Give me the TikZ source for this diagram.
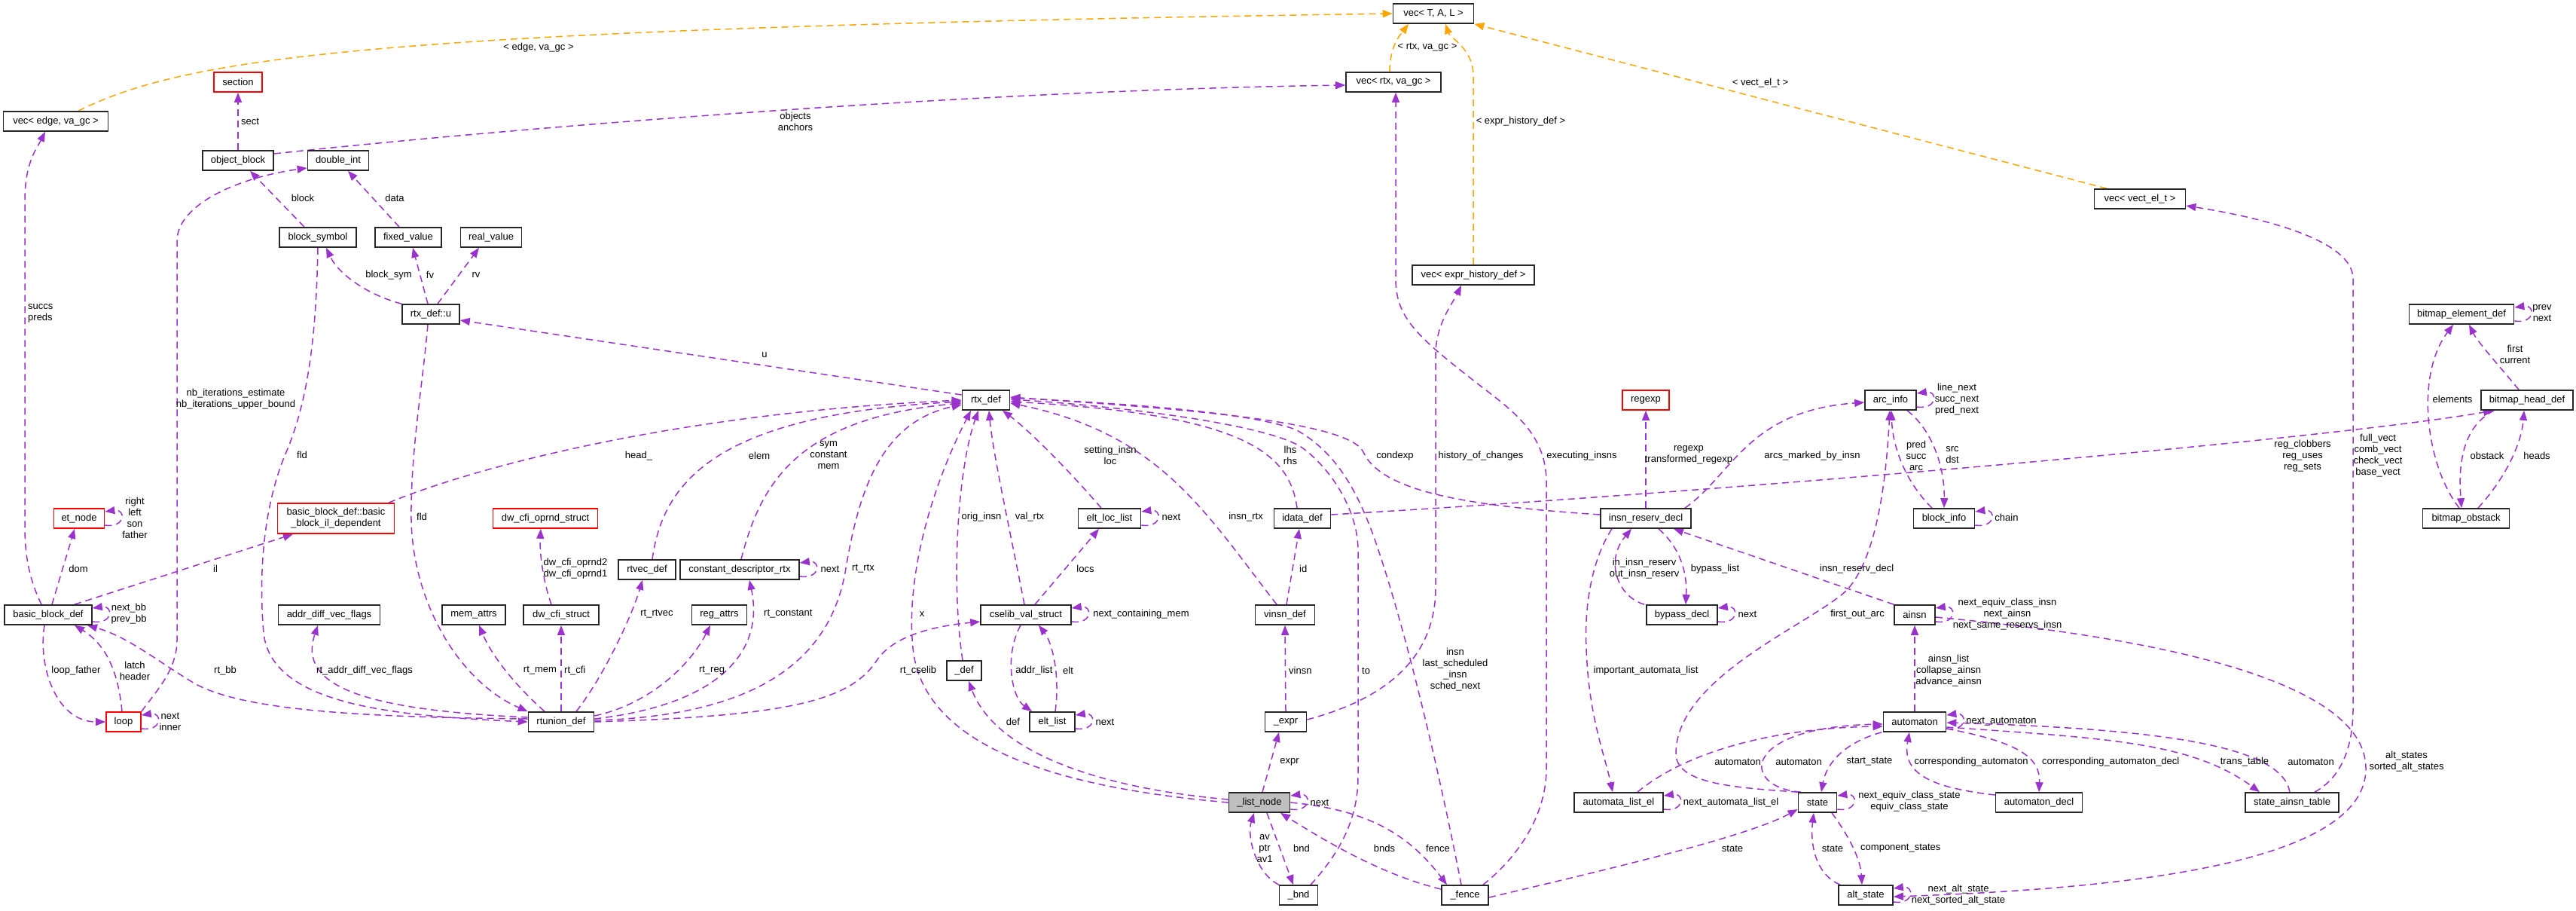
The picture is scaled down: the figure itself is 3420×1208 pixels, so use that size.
\documentclass[tikz,border=0pt]{standalone}
\usepackage{fontspec}
\setmainfont{Liberation Sans}
\usetikzlibrary{arrows.meta}
\pgfdeclarelayer{bg}
\pgfsetlayers{bg,main}
\definecolor{purp}{HTML}{9A32CD}
\definecolor{orng}{HTML}{FFA500}
\definecolor{gfill}{HTML}{BFBFBF}
\definecolor{rd}{HTML}{FF0000}
\newcommand\myselfloop[1]{\draw[rel] ([yshift=-9pt]#1.east) .. controls +(28,4) and +(28,-4) .. ([yshift=9pt]#1.east);}
\begin{document}
\begin{tikzpicture}[x=1pt,y=-1pt,
 every node/.style={font=\fontsize{13}{15}\selectfont},
 cbox/.style={draw=black!85,line width=1.7pt,fill=white,minimum height=26pt,inner sep=0pt,align=center},
 rbox/.style={cbox,draw=rd},
 rel/.style={draw=purp,line width=1.5pt,dash pattern=on 9pt off 6pt,-{Triangle[length=13pt,width=10pt]}},
 orel/.style={rel,draw=orng},
 lab/.style={inner sep=0pt,align=center},
 labw/.style={inner sep=0pt,align=left,anchor=west},
]
\useasboundingbox (0,0) rectangle (3420,1208);
% nodes
\node[cbox, minimum width=107pt] (vecTAL) at (1903,18) {vec< T, A, L >};
\node[rbox, minimum width=64pt] (section) at (316,109) {section};
\node[cbox, minimum width=139pt] (vecedge) at (74,161) {vec< edge, va\_gc >};
\node[cbox, minimum width=126pt] (vecrtx) at (1850,109) {vec< rtx, va\_gc >};
\node[cbox, minimum width=94pt] (objblock) at (316,213) {object\_block};
\node[cbox, minimum width=81pt] (doubleint) at (449,213) {double\_int};
\node[cbox, minimum width=102pt] (blocksym) at (422,315) {block\_symbol};
\node[cbox, minimum width=88pt] (fixedval) at (542,315) {fixed\_value};
\node[cbox, minimum width=81pt] (realval) at (652,315) {real\_value};
\node[cbox, minimum width=76pt] (rtxu) at (572,417) {rtx\_def::u};
\node[cbox, minimum width=162pt] (vecexpr) at (1956,365) {vec< expr\_history\_def >};
\node[cbox, minimum width=121pt] (vecvect) at (2841,264) {vec< vect\_el\_t >};
\node[rbox, minimum width=62pt] (regexp) at (2185,531) {regexp};
\node[cbox, minimum width=68pt] (arcinfo) at (2510,531) {arc\_info};
\node[cbox, minimum width=139pt] (bmelem) at (3268,417) {bitmap\_element\_def};
\node[cbox, minimum width=122pt] (bmhead) at (3355,531) {bitmap\_head\_def};
\node[cbox, minimum width=63pt] (rtxdef) at (1309,531) {rtx\_def};
\node[rbox, minimum width=67pt] (etnode) at (105,688) {et\_node};
\node[rbox, minimum width=155pt, minimum height=40pt] (bbil) at (446,688) {basic\_block\_def::basic\\\_block\_il\_dependent};
\node[rbox, minimum width=139pt] (dwoprnd) at (724,688) {dw\_cfi\_oprnd\_struct};
\node[cbox, minimum width=83pt] (eltloc) at (1473,688) {elt\_loc\_list};
\node[cbox, minimum width=75pt] (idata) at (1729,688) {idata\_def};
\node[cbox, minimum width=120pt] (insnres) at (2185,688) {insn\_reserv\_decl};
\node[cbox, minimum width=81pt] (blockinfo) at (2581,688) {block\_info};
\node[cbox, minimum width=115pt] (bmobstack) at (3274,688) {bitmap\_obstack};
\node[cbox, minimum width=116pt] (bbdef) at (64,816) {basic\_block\_def};
\node[cbox, minimum width=135pt] (addrdiff) at (437,816) {addr\_diff\_vec\_flags};
\node[cbox, minimum width=84pt] (memattrs) at (629,816) {mem\_attrs};
\node[cbox, minimum width=100pt] (dwcfi) at (745,816) {dw\_cfi\_struct};
\node[cbox, minimum width=76pt] (rtvec) at (859,756) {rtvec\_def};
\node[cbox, minimum width=158pt] (cdr) at (982,756) {constant\_descriptor\_rtx};
\node[cbox, minimum width=73pt] (regattrs) at (955,816) {reg\_attrs};
\node[cbox, minimum width=120pt] (cselib) at (1362,816) {cselib\_val\_struct};
\node[cbox, minimum width=79pt] (vinsn) at (1706,816) {vinsn\_def};
\node[cbox, minimum width=94pt] (bypass) at (2233,816) {bypass\_decl};
\node[cbox, minimum width=54pt] (ainsn) at (2542,816) {ainsn};
\node[cbox, minimum width=46pt] (def) at (1280,890) {\_def};
\node[rbox, minimum width=46pt] (loop) at (164,958) {loop};
\node[cbox, minimum width=87pt] (rtunion) at (745,958) {rtunion\_def};
\node[cbox, minimum width=60pt] (eltlist) at (1397,958) {elt\_list};
\node[cbox, minimum width=55pt] (expr) at (1707,958) {\_expr};
\node[cbox, minimum width=83pt] (automaton) at (2542,958) {automaton};
\node[cbox, minimum width=81pt, fill=gfill] (listnode) at (1672,1065) {\_list\_node};
\node[cbox, minimum width=118pt] (autolist) at (2149,1065) {automata\_list\_el};
\node[cbox, minimum width=51pt] (state) at (2413,1065) {state};
\node[cbox, minimum width=115pt] (autodecl) at (2707,1065) {automaton\_decl};
\node[cbox, minimum width=124pt] (sat) at (3043,1065) {state\_ainsn\_table};
\node[cbox, minimum width=51pt] (bnd) at (1724,1188) {\_bnd};
\node[cbox, minimum width=62pt] (fence) at (1945,1188) {\_fence};
\node[cbox, minimum width=72pt] (altstate) at (2477,1188) {alt\_state};

\begin{pgfonlayer}{bg}
\fill[white] (0,0) rectangle (3420,1208);
% orange
\draw[orel] ([xshift=30pt]vecedge.north) .. controls (250,75) and (500,38) .. (vecTAL.west);
\draw[orel] ([xshift=-5pt]vecrtx.north) .. controls (1845,60) and (1860,45) .. ([xshift=-33pt]vecTAL.south);
\draw[orel] (vecexpr.north) -- (1956,100) .. controls (1956,65) and (1925,50) .. ([xshift=16pt]vecTAL.south);
\draw[orel] ([xshift=-44pt]vecvect.north) -- (vecTAL.south east);
% purple
\draw[rel] (objblock.north) -- (section.south);
\draw[rel] ([yshift=9pt]objblock.east) .. controls (700,168) and (1300,120) .. ([yshift=-4pt]vecrtx.west);
\draw[rel] ([xshift=-18pt]blocksym.north) -- ([xshift=16pt]objblock.south);
\draw[rel] ([xshift=-12pt]fixedval.north) -- ([xshift=13pt]doubleint.south);
\draw[rel] (rtxu.north west) .. controls (490,392) and (450,365) .. ([xshift=11pt]blocksym.south);
\draw[rel] ([xshift=-4pt]rtxu.north) -- ([xshift=6pt]fixedval.south);
\draw[rel] ([xshift=9pt]rtxu.north) -- ([xshift=-16pt]realval.south);
\draw[rel] ([yshift=7pt]rtxdef.west) -- ([yshift=-8pt]rtxu.east);
\draw[rel] (loop.north east) .. controls (205,920) and (235,890) .. (235,850) -- (235,320) .. controls (235,270) and (320,235) .. ([yshift=-10pt]doubleint.west);
\draw[rel] ([xshift=-9pt]bbdef.north) .. controls (42,775) and (33,745) .. (33,700) -- (33,265) .. controls (33,215) and (50,195) .. ([xshift=-14pt]vecedge.south);
\draw[rel] ([xshift=5pt]bbdef.north) -- ([xshift=-6pt]etnode.south);
\myselfloop{etnode}
\draw[rel] ([xshift=35pt]bbdef.north) -- ([xshift=-57pt]bbil.south);
\myselfloop{bbdef}
\draw[rel] ([xshift=-5pt]bbdef.south) .. controls (50,885) and (75,958) .. (loop.west);
\draw[rel] ([xshift=-2pt]loop.north) .. controls (157,890) and (140,855) .. ([xshift=35pt]bbdef.south);
\myselfloop{loop}
\draw[rel] ([yshift=4pt]rtunion.west) .. controls (500,952) and (320,945) .. (255,905) .. controls (210,878) and (170,845) .. ([xshift=52pt]bbdef.south);
\draw[rel] (blocksym.south) .. controls (420,440) and (410,530) .. (380,600) .. controls (350,670) and (343,760) .. (350,840) .. controls (360,935) and (520,950) .. (rtunion.west);
\draw[rel] ([yshift=6pt]rtunion.west) .. controls (480,942) and (395,910) .. ([xshift=-15pt]addrdiff.south);
\draw[rel] ([xshift=-22pt]rtunion.north) .. controls (690,915) and (655,875) .. ([xshift=7pt]memattrs.south);
\draw[rel] (rtunion.north) -- (dwcfi.south);
\draw[rel] ([xshift=-13pt]dwcfi.north) .. controls (722,775) and (716,735) .. ([xshift=-6pt]dwoprnd.south);
\draw[rel] ([xshift=20pt]rtunion.north) .. controls (800,900) and (838,820) .. ([xshift=-6pt]rtvec.south);
\draw[rel] ([xshift=7pt]rtvec.north) .. controls (880,640) and (950,550) .. ([yshift=-2pt]rtxdef.west);
\draw[rel] ([yshift=8pt]rtunion.east) .. controls (860,935) and (915,885) .. ([xshift=-12pt]regattrs.south);
\draw[rel] ([yshift=4pt]rtunion.east) .. controls (955,935) and (1015,865) .. ([xshift=13pt]cdr.south);
\draw[rel] ([xshift=2pt]cdr.north) .. controls (1010,640) and (1060,555) .. ([yshift=-4pt]rtxdef.west);
\myselfloop{cdr}
\draw[rel] ([yshift=2pt]rtunion.east) .. controls (1000,950) and (1100,880) .. (1122,760) .. controls (1140,650) and (1170,560) .. ([yshift=-6pt]rtxdef.west);
\draw[rel] (rtunion.east) .. controls (1050,950) and (1130,930) .. (1165,875) .. controls (1190,840) and (1250,830) .. ([yshift=-9pt]cselib.west);
\draw[rel] ([xshift=70pt]bbil.north) .. controls (630,620) and (900,548) .. (rtxdef.west);
\draw[rel] (listnode.west) .. controls (1400,1045) and (1225,990) .. (1212,860) .. controls (1202,760) and (1240,640) .. ([xshift=-20pt]rtxdef.south);
\draw[rel] ([xshift=-2pt]def.north) .. controls (1262,770) and (1272,620) .. ([xshift=-10pt]rtxdef.south);
\draw[rel] ([xshift=-2pt]cselib.north) .. controls (1340,700) and (1318,600) .. ([xshift=4pt]rtxdef.south);
\draw[rel] ([xshift=-11pt]eltloc.north) .. controls (1420,625) and (1365,570) .. ([xshift=22pt]rtxdef.south);
\myselfloop{eltloc}
\draw[rel] ([xshift=12pt]cselib.north) -- ([xshift=-14pt]eltloc.south);
\myselfloop{cselib}
\draw[rel] ([xshift=4pt]eltlist.north) .. controls (1408,890) and (1395,850) .. ([xshift=17pt]cselib.south);
\draw[rel] ([xshift=-7pt]cselib.south) .. controls (1333,870) and (1343,925) .. ([xshift=-27pt]eltlist.north);
\myselfloop{eltlist}
\draw[rel] ([yshift=4pt]listnode.west) .. controls (1450,1045) and (1320,995) .. ([xshift=6pt]def.south);
\draw[rel] ([xshift=-11pt]vinsn.north) .. controls (1600,680) and (1540,575) .. ([yshift=-4pt]rtxdef.east);
\draw[rel] ([xshift=-7pt]idata.north) .. controls (1712,600) and (1650,550) .. ([yshift=-2pt]rtxdef.east);
\draw[rel] ([xshift=2pt]vinsn.north) -- ([xshift=-4pt]idata.south);
\draw[rel] (expr.north) -- (vinsn.south);
\draw[rel] ([xshift=4pt]listnode.north) -- ([xshift=-9pt]expr.south);
\myselfloop{listnode}
\draw[rel] ([xshift=-26pt]bnd.north) .. controls (1668,1160) and (1655,1110) .. ([xshift=-7pt]listnode.south);
\draw[rel] ([xshift=10pt]listnode.south) -- ([xshift=-7pt]bnd.north);
\draw[rel] ([yshift=8pt]fence.west) .. controls (1830,1160) and (1750,1110) .. ([xshift=28pt]listnode.south);
\draw[rel] (listnode.east) .. controls (1820,1075) and (1872,1110) .. ([xshift=-24pt]fence.north);
\draw[rel] ([xshift=16pt]bnd.north) .. controls (1785,1125) and (1803,1080) .. (1803,1030) -- (1803,730) .. controls (1803,680) and (1770,625) .. (1730,595) .. controls (1690,565) and (1500,540) .. ([yshift=1pt]rtxdef.east);
\draw[rel] ([xshift=-5pt]fence.north) .. controls (1912,1030) and (1870,850) .. (1830,730) .. controls (1805,655) and (1775,600) .. (1720,570) .. controls (1650,545) and (1480,535) .. ([yshift=3pt]rtxdef.east);
\draw[rel] ([xshift=24pt]fence.north) .. controls (2012,1140) and (2053,1085) .. (2053,1020) -- (2053,640) .. controls (2053,570) and (2000,540) .. (1950,500) .. controls (1880,445) and (1853,420) .. (1853,370) -- ([xshift=3pt]vecrtx.south);
\draw[rel] ([yshift=3pt]expr.east) .. controls (1830,930) and (1906,880) .. (1906,780) -- (1906,470) .. controls (1906,430) and (1930,400) .. ([xshift=-16pt]vecexpr.south);
\draw[rel] ([yshift=5pt]insnres.west) .. controls (1960,672) and (1835,655) .. (1810,600) .. controls (1790,555) and (1520,540) .. ([yshift=4pt]rtxdef.east);
\draw[rel] (insnres.north) -- (regexp.south);
\draw[rel] ([xshift=52pt]insnres.north) .. controls (2300,630) and (2320,545) .. ([yshift=-3pt]arcinfo.west);
\draw[rel] ([xshift=17pt]insnres.south) .. controls (2232,728) and (2240,762) .. ([xshift=5pt]bypass.north);
\draw[rel] ([xshift=-50pt]bypass.north) .. controls (2148,792) and (2130,745) .. ([xshift=-19pt]insnres.south);
\myselfloop{bypass}
\draw[rel] (ainsn.north west) -- ([xshift=37pt]insnres.south);
\draw[rel] (state.north west) .. controls (2300,1045) and (2225,1040) .. (2225,1000) .. controls (2225,900) and (2400,830) .. (2450,785) .. controls (2495,740) and (2505,620) .. ([xshift=-1pt]arcinfo.south);
\myselfloop{arcinfo}
\draw[rel] ([xshift=22pt]arcinfo.south) .. controls (2565,570) and (2582,620) .. (blockinfo.north);
\draw[rel] ([xshift=-16pt]blockinfo.north) .. controls (2535,645) and (2513,600) .. ([xshift=1pt]arcinfo.south);
\myselfloop{blockinfo}
\draw[rel] ([yshift=5pt]idata.east) .. controls (2300,652) and (3100,582) .. ([xshift=-45pt]bmhead.south);
\draw[rel] ([xshift=30pt]sat.north) .. controls (3112,1030) and (3124,985) .. (3124,940) -- (3124,370) .. controls (3124,320) and (3010,290) .. ([yshift=-9pt]vecvect.east);
\myselfloop{bmelem}
\draw[rel] ([xshift=-11pt]bmhead.north) .. controls (3322,490) and (3290,455) .. ([xshift=10pt]bmelem.south);
\draw[rel] ([xshift=-9pt]bmobstack.north) .. controls (3222,620) and (3205,500) .. ([xshift=-11pt]bmelem.south);
\draw[rel] ([xshift=-44pt]bmhead.south) .. controls (3272,565) and (3263,610) .. ([xshift=-6pt]bmobstack.north);
\draw[rel] ([xshift=16pt]bmobstack.north) .. controls (3330,630) and (3348,585) .. ([xshift=-4pt]bmhead.south);
\draw[rel] (automaton.north) -- (ainsn.south);
\myselfloop{ainsn}
\draw[rel] ([yshift=-3pt]ainsn.east) .. controls (2850,845) and (3141,900) .. (3141,1020) .. controls (3141,1150) and (2800,1180) .. ([yshift=-2pt]altstate.east);
\myselfloop{altstate}
\myselfloop{automaton}
\draw[rel] ([xshift=25pt]autolist.north) .. controls (2235,1000) and (2350,966) .. ([yshift=-6pt]automaton.west);
\draw[rel] ([xshift=-22pt]state.north) .. controls (2310,1045) and (2310,965) .. ([yshift=-3pt]automaton.west);
\draw[rel] ([xshift=-44pt]automaton.south) .. controls (2450,985) and (2425,1012) .. ([xshift=5pt]state.north);
\draw[rel] ([yshift=10pt]autodecl.west) .. controls (2560,1045) and (2525,1025) .. ([xshift=-7pt]automaton.south);
\draw[rel] ([yshift=-9pt]automaton.east) .. controls (2680,985) and (2709,1005) .. (autodecl.north);
\draw[rel] ([yshift=-7pt]automaton.east) .. controls (2800,980) and (2910,985) .. ([xshift=-43pt]sat.north);
\draw[rel] ([xshift=-3pt]sat.north) .. controls (3030,995) and (2900,968) .. ([yshift=-1pt]automaton.east);
\myselfloop{autolist}
\draw[rel] ([xshift=-45pt]insnres.south) .. controls (2115,740) and (2103,800) .. (2106,860) .. controls (2109,950) and (2130,1000) .. ([xshift=-8pt]autolist.north);
\draw[rel] ([xshift=-34pt]altstate.north) .. controls (2410,1160) and (2403,1120) .. ([xshift=-5pt]state.south);
\draw[rel] ([xshift=19pt]state.south) .. controls (2455,1110) and (2470,1140) .. ([xshift=-5pt]altstate.north);
\myselfloop{state}
\draw[rel] ([yshift=-3pt]fence.east) .. controls (2150,1150) and (2320,1110) .. ([yshift=-9pt]state.west);
\draw[rel] ([xshift=-4pt]rtxu.south) .. controls (560,520) and (545,600) .. (546,690) .. controls (548,800) and (610,905) .. (rtunion.north west);
\end{pgfonlayer}

% labels
\node[lab] (l1) at (715,63) {< edge, va\_gc >};
\node[lab] (l2) at (1895,63) {< rtx, va\_gc >};
\node[lab] (l3) at (2019,161) {< expr\_history\_def >};
\node[lab] (l4) at (2337,110) {< vect\_el\_t >};
\node[labw] (l5) at (320,161) {sect};
\node[lab] (l6) at (1056,161) {objects\\anchors};
\node[lab] (l7) at (402,263) {block};
\node[lab] (l8) at (524,263) {data};
\node[lab] (l9) at (516,365) {block\_sym};
\node[lab] (l10) at (571,365) {fv};
\node[lab] (l11) at (632,365) {rv};
\node[lab] (l12) at (1015,471) {u};
\node[lab] (l13) at (313,530) {nb\_iterations\_estimate\\nb\_iterations\_upper\_bound};
\node[labw] (l14) at (37,416) {succs\\preds};
\node[lab] (l15) at (104,755) {dom};
\node[lab] (l16) at (179,687) {right\\left\\son\\father};
\node[lab] (l17) at (286,755) {il};
\node[lab] (l18) at (171,815) {next\_bb\\prev\_bb};
\node[lab] (l19) at (101,890) {loop\_father};
\node[lab] (l20) at (179,890) {latch\\header};
\node[lab] (l21) at (226,958) {next\\inner};
\node[lab] (l22) at (299,890) {rt\_bb};
\node[lab] (l23) at (401,604) {fld};
\node[labw] (l24) at (420,890) {rt\_addr\_diff\_vec\_flags};
\node[lab] (l25) at (717,890) {rt\_mem};
\node[labw] (l26) at (749,890) {rt\_cfi};
\node[lab] (l27) at (764,755) {dw\_cfi\_oprnd2\\dw\_cfi\_oprnd1};
\node[lab] (l28) at (872,815) {rt\_rtvec};
\node[lab] (l29) at (1008,605) {elem};
\node[lab] (l30) at (945,890) {rt\_reg};
\node[labw] (l31) at (1014,815) {rt\_constant};
\node[lab] (l32) at (1100,604) {sym\\constant\\mem};
\node[lab] (l33) at (1102,755) {next};
\node[labw] (l34) at (1131,755) {rt\_rtx};
\node[lab] (l35) at (1219,890) {rt\_cselib};
\node[lab] (l36) at (848,605) {head\_};
\node[lab] (l37) at (1224,815) {x};
\node[lab] (l38) at (1303,686) {orig\_insn};
\node[lab] (l39) at (1367,686) {val\_rtx};
\node[lab] (l40) at (1474,604) {setting\_insn\\loc};
\node[lab] (l41) at (1555,686) {next};
\node[lab] (l42) at (1441,755) {locs};
\node[lab] (l43) at (1515,815) {next\_containing\_mem};
\node[lab] (l44) at (1418,890) {elt};
\node[lab] (l45) at (1373,890) {addr\_list};
\node[lab] (l46) at (1467,958) {next};
\node[lab] (l47) at (1345,958) {def};
\node[lab] (l48) at (1654,686) {insn\_rtx};
\node[lab] (l49) at (1713,604) {lhs\\rhs};
\node[labw] (l50) at (1725,755) {id};
\node[labw] (l51) at (1711,890) {vinsn};
\node[lab] (l52) at (1712,1011) {expr};
\node[lab] (l53) at (1752,1065) {next};
\node[lab] (l54) at (1679,1126) {av\\ptr\\av1};
\node[lab] (l55) at (1728,1126) {bnd};
\node[lab] (l56) at (1838,1126) {bnds};
\node[lab] (l57) at (1909,1126) {fence};
\node[labw] (l58) at (1808,890) {to};
\node[lab] (l59) at (1932,889) {insn\\last\_scheduled\\\_insn\\sched\_next};
\node[lab] (l60) at (2100,605) {executing\_insns};
\node[lab] (l61) at (1966,605) {history\_of\_changes};
\node[lab] (l62) at (1852,605) {condexp};
\node[lab] (l63) at (2242,604) {regexp\\transformed\_regexp};
\node[lab] (l64) at (2406,605) {arcs\_marked\_by\_insn};
\node[lab] (l65) at (2277,755) {bypass\_list};
\node[lab] (l66) at (2183,755) {in\_insn\_reserv\\out\_insn\_reserv};
\node[lab] (l67) at (2320,815) {next};
\node[lab] (l68) at (2465,755) {insn\_reserv\_decl};
\node[lab] (l69) at (2466,815) {first\_out\_arc};
\node[lab] (l70) at (2598,530) {line\_next\\succ\_next\\pred\_next};
\node[lab] (l71) at (2592,604) {src\\dst};
\node[lab] (l72) at (2544,605) {pred\\succ\\arc};
\node[lab] (l73) at (2664,687) {chain};
\node[lab] (l74) at (3057,605) {reg\_clobbers\\reg\_uses\\reg\_sets};
\node[lab] (l75) at (3157,605) {full\_vect\\comb\_vect\\check\_vect\\base\_vect};
\node[lab] (l76) at (3375,416) {prev\\next};
\node[lab] (l77) at (3339,470) {first\\current};
\node[lab] (l78) at (3256,530) {elements};
\node[lab] (l79) at (3302,605) {obstack};
\node[lab] (l80) at (3368,605) {heads};
\node[lab] (l81) at (2587,890) {ainsn\_list\\collapse\_ainsn\\advance\_ainsn};
\node[lab] (l82) at (2665,815) {next\_equiv\_class\_insn\\next\_ainsn\\next\_same\_reservs\_insn};
\node[lab] (l83) at (3195,1011) {alt\_states\\sorted\_alt\_states};
\node[lab] (l84) at (2600,1188) {next\_alt\_state\\next\_sorted\_alt\_state};
\node[lab] (l85) at (2657,958) {next\_automaton};
\node[lab] (l86) at (2307,1011) {automaton};
\node[lab] (l87) at (2388,1011) {automaton};
\node[lab] (l88) at (2482,1011) {start\_state};
\node[lab] (l89) at (2617,1011) {corresponding\_automaton};
\node[labw] (l90) at (2711,1011) {corresponding\_automaton\_decl};
\node[lab] (l91) at (2980,1011) {trans\_table};
\node[lab] (l92) at (3068,1011) {automaton};
\node[lab] (l93) at (2298,1065) {next\_automata\_list\_el};
\node[lab] (l94) at (2185,890) {important\_automata\_list};
\node[lab] (l95) at (2433,1126) {state};
\node[labw] (l96) at (2470,1126) {component\_states};
\node[lab] (l97) at (2535,1064) {next\_equiv\_class\_state\\equiv\_class\_state};
\node[lab] (l98) at (2300,1126) {state};
\node[lab] (l100) at (560,686) {fld};
\end{tikzpicture}
\end{document}
